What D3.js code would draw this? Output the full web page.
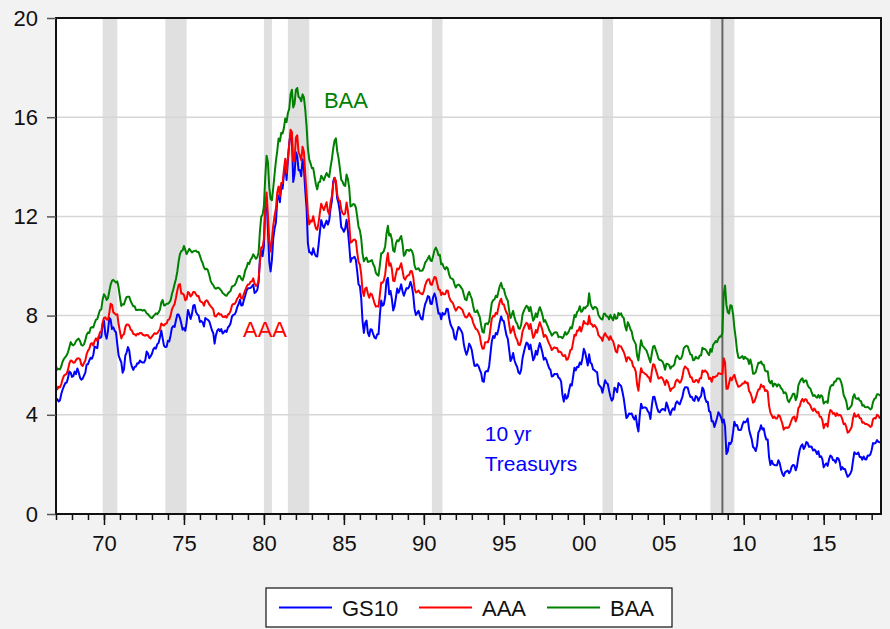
<!DOCTYPE html>
<html>
<head>
<meta charset="utf-8">
<script src="https://cdn.jsdelivr.net/npm/d3@7"></script>
<style>
  body { margin: 0; background: #f2f2f2; }
  svg { display: block; font-family: Arial, "Liberation Sans", sans-serif; }
</style>
</head>
<body>
<div id="chart"></div>
<script>
// monthly series, starting 1967m01
const startYear = 1967;

const gs10 = [
  4.58, 4.63, 4.54, 4.59, 4.85, 5.02, 5.16, 5.28, 5.30, 5.48, 5.75, 5.70,
  5.53, 5.56, 5.74, 5.64, 5.87, 5.72, 5.50, 5.42, 5.46, 5.58, 5.70, 6.03,
  6.04, 6.19, 6.30, 6.26, 6.42, 6.75, 6.72, 6.69, 7.16, 7.10, 7.14, 7.65,
  7.79, 7.24, 7.07, 7.39, 7.91, 7.84, 7.46, 7.53, 7.39, 7.33, 6.84, 6.39,
  6.24, 6.11, 5.70, 5.83, 6.39, 6.52, 6.73, 6.58, 6.14, 5.93, 5.81, 5.93,
  5.95, 6.08, 6.07, 6.19, 6.13, 6.11, 6.11, 6.21, 6.55, 6.48, 6.28, 6.36,
  6.46, 6.64, 6.71, 6.67, 6.85, 6.90, 7.13, 7.40, 7.09, 6.79, 6.73, 6.74,
  6.99, 6.96, 7.21, 7.51, 7.58, 7.54, 7.81, 8.04, 8.04, 7.90, 7.68, 7.43,
  7.50, 7.39, 7.73, 8.23, 8.06, 7.86, 8.06, 8.40, 8.43, 8.15, 8.05, 8.00,
  7.74, 7.79, 7.73, 7.56, 7.90, 7.86, 7.83, 7.77, 7.59, 7.41, 7.29, 6.87,
  7.21, 7.39, 7.46, 7.37, 7.46, 7.28, 7.33, 7.40, 7.34, 7.52, 7.58, 7.69,
  7.96, 8.03, 8.04, 8.15, 8.35, 8.46, 8.64, 8.41, 8.42, 8.64, 8.81, 9.01,
  9.10, 9.10, 9.12, 9.18, 9.25, 8.91, 8.95, 9.03, 9.33, 10.30, 10.65, 10.39,
  10.80, 12.41, 12.75, 11.47, 10.18, 9.78, 10.25, 11.10, 11.51, 11.75, 12.68, 12.84,
  12.57, 13.19, 13.12, 13.68, 14.10, 13.47, 14.28, 14.94, 15.32, 15.15, 13.39, 13.72,
  14.59, 14.43, 13.86, 13.87, 13.62, 14.30, 13.95, 13.06, 12.34, 10.91, 10.55, 10.54,
  10.46, 10.72, 10.51, 10.40, 10.38, 10.85, 11.38, 11.85, 11.65, 11.54, 11.69, 11.83,
  11.67, 11.84, 12.32, 12.63, 13.41, 13.56, 13.36, 12.72, 12.52, 12.16, 11.57, 11.50,
  11.38, 11.51, 11.86, 11.43, 10.85, 10.16, 10.31, 10.33, 10.37, 10.24, 9.78, 9.26,
  9.19, 8.70, 7.78, 7.30, 7.71, 7.80, 7.30, 7.17, 7.45, 7.43, 7.25, 7.11,
  7.08, 7.25, 7.25, 8.02, 8.61, 8.40, 8.45, 8.76, 9.42, 9.52, 8.86, 8.99,
  8.67, 8.21, 8.37, 8.72, 9.09, 8.92, 9.06, 9.26, 8.98, 8.80, 8.96, 9.11,
  9.09, 9.17, 9.36, 9.18, 8.86, 8.28, 8.02, 8.11, 8.19, 8.01, 7.87, 7.84,
  8.21, 8.47, 8.59, 8.79, 8.76, 8.48, 8.47, 8.75, 8.89, 8.72, 8.39, 8.08,
  8.09, 7.85, 8.11, 8.04, 8.07, 8.28, 8.27, 7.90, 7.65, 7.53, 7.42, 7.09,
  7.03, 7.34, 7.54, 7.48, 7.39, 7.26, 6.84, 6.59, 6.42, 6.59, 6.87, 6.77,
  6.60, 6.26, 5.98, 5.97, 6.04, 5.96, 5.81, 5.68, 5.36, 5.33, 5.72, 5.77,
  5.75, 5.97, 6.48, 6.97, 7.18, 7.10, 7.30, 7.24, 7.46, 7.74, 7.96, 7.81,
  7.78, 7.47, 7.20, 7.06, 6.63, 6.17, 6.28, 6.49, 6.20, 6.04, 5.93, 5.71,
  5.65, 5.81, 6.27, 6.51, 6.74, 6.91, 6.87, 6.64, 6.83, 6.53, 6.20, 6.30,
  6.58, 6.42, 6.69, 6.89, 6.71, 6.49, 6.22, 6.30, 6.21, 6.03, 5.88, 5.81,
  5.54, 5.57, 5.65, 5.64, 5.65, 5.50, 5.46, 5.34, 4.81, 4.53, 4.83, 4.65,
  4.72, 5.00, 5.23, 5.18, 5.54, 5.90, 5.79, 5.94, 5.92, 6.11, 6.03, 6.28,
  6.66, 6.52, 6.26, 5.99, 6.44, 6.10, 6.05, 5.83, 5.80, 5.74, 5.72, 5.24,
  5.16, 5.10, 4.89, 5.14, 5.39, 5.28, 5.24, 4.97, 4.73, 4.57, 4.65, 5.09,
  5.04, 4.91, 5.28, 5.21, 5.16, 4.93, 4.65, 4.26, 3.87, 3.94, 4.05, 4.03,
  4.05, 3.90, 3.81, 3.96, 3.57, 3.33, 3.98, 4.45, 4.27, 4.29, 4.30, 4.27,
  4.15, 4.08, 3.83, 4.35, 4.72, 4.73, 4.50, 4.28, 4.13, 4.10, 4.19, 4.23,
  4.22, 4.17, 4.50, 4.34, 4.14, 4.00, 4.18, 4.26, 4.20, 4.46, 4.54, 4.47,
  4.42, 4.57, 4.72, 4.99, 5.11, 5.11, 5.09, 4.88, 4.72, 4.73, 4.60, 4.56,
  4.76, 4.72, 4.56, 4.69, 4.75, 5.10, 5.00, 4.67, 4.52, 4.53, 4.15, 4.10,
  3.74, 3.74, 3.51, 3.68, 3.88, 4.10, 4.01, 3.89, 3.69, 3.81, 3.53, 2.42,
  2.52, 2.87, 2.82, 2.93, 3.29, 3.72, 3.56, 3.59, 3.40, 3.39, 3.40, 3.59,
  3.73, 3.69, 3.73, 3.85, 3.42, 3.20, 3.01, 2.70, 2.65, 2.54, 2.76, 3.29,
  3.39, 3.58, 3.41, 3.46, 3.17, 3.00, 3.00, 2.30, 1.98, 2.15, 2.01, 1.98,
  1.97, 1.97, 2.17, 2.05, 1.80, 1.62, 1.53, 1.68, 1.72, 1.75, 1.65, 1.72,
  1.91, 1.98, 1.96, 1.76, 1.93, 2.30, 2.58, 2.74, 2.81, 2.62, 2.72, 2.90,
  2.86, 2.71, 2.72, 2.71, 2.56, 2.60, 2.54, 2.42, 2.53, 2.30, 2.33, 2.21,
  1.88, 1.98, 2.04, 1.94, 2.20, 2.36, 2.32, 2.17, 2.17, 2.07, 2.26, 2.24,
  2.09, 1.78, 1.89, 1.81, 1.81, 1.64, 1.50, 1.56, 1.63, 1.76, 2.14, 2.49,
  2.43, 2.42, 2.48, 2.30, 2.30, 2.19, 2.32, 2.21, 2.20, 2.36, 2.35, 2.40,
  2.58, 2.86, 2.84, 2.87, 2.98, 2.91, 2.89, 2.89
];

const aaa = [
  5.20, 5.03, 5.13, 5.11, 5.24, 5.44, 5.58, 5.62, 5.65, 5.82, 6.07, 6.19,
  6.17, 6.10, 6.11, 6.21, 6.27, 6.28, 6.24, 6.02, 5.97, 6.09, 6.19, 6.45,
  6.59, 6.66, 6.85, 6.89, 6.79, 6.98, 7.08, 6.97, 7.14, 7.33, 7.35, 7.72,
  7.91, 7.93, 7.84, 7.83, 8.11, 8.48, 8.44, 8.13, 8.09, 8.03, 8.05, 7.64,
  7.36, 7.08, 7.21, 7.25, 7.53, 7.64, 7.64, 7.59, 7.44, 7.39, 7.26, 7.25,
  7.19, 7.27, 7.24, 7.30, 7.30, 7.23, 7.21, 7.19, 7.22, 7.21, 7.12, 7.08,
  7.15, 7.22, 7.29, 7.26, 7.29, 7.37, 7.45, 7.68, 7.63, 7.60, 7.67, 7.68,
  7.83, 7.85, 8.01, 8.25, 8.37, 8.47, 8.72, 9.00, 9.24, 9.27, 8.89, 8.89,
  8.83, 8.62, 8.67, 8.95, 8.90, 8.77, 8.84, 8.95, 8.95, 8.86, 8.78, 8.79,
  8.60, 8.55, 8.52, 8.40, 8.58, 8.62, 8.56, 8.45, 8.38, 8.32, 8.25, 7.98,
  7.96, 8.04, 8.10, 8.04, 8.05, 7.95, 7.94, 7.98, 7.92, 8.04, 8.08, 8.19,
  8.41, 8.47, 8.47, 8.56, 8.69, 8.76, 8.88, 8.69, 8.69, 8.89, 9.03, 9.16,
  9.25, 9.26, 9.37, 9.38, 9.50, 9.29, 9.20, 9.23, 9.44, 10.13, 10.76, 10.74,
  11.09, 12.38, 12.96, 12.04, 10.99, 10.58, 11.07, 11.64, 12.02, 12.31, 12.97, 13.21,
  12.81, 13.35, 13.33, 13.88, 14.32, 13.75, 14.38, 14.89, 15.49, 15.40, 14.22, 14.23,
  15.18, 15.27, 14.58, 14.46, 14.26, 14.81, 14.61, 13.71, 12.94, 12.12, 11.68, 11.83,
  11.79, 12.01, 11.73, 11.51, 11.46, 11.74, 12.15, 12.51, 12.37, 12.25, 12.41, 12.57,
  12.20, 12.08, 12.57, 12.81, 13.28, 13.55, 13.44, 12.87, 12.66, 12.63, 12.29, 12.13,
  12.08, 12.13, 12.56, 12.23, 11.72, 10.94, 10.97, 11.05, 11.07, 11.02, 10.55, 10.16,
  10.05, 9.67, 9.00, 8.79, 9.09, 9.13, 8.88, 8.72, 8.89, 8.86, 8.68, 8.49,
  8.36, 8.38, 8.36, 8.85, 9.33, 9.32, 9.42, 9.67, 10.18, 10.52, 10.01, 10.11,
  9.88, 9.40, 9.39, 9.67, 9.90, 9.86, 9.96, 10.11, 9.82, 9.51, 9.45, 9.57,
  9.62, 9.64, 9.80, 9.79, 9.57, 9.10, 8.93, 8.96, 9.01, 8.92, 8.89, 8.86,
  8.99, 9.22, 9.37, 9.46, 9.47, 9.26, 9.24, 9.41, 9.56, 9.53, 9.30, 9.05,
  9.04, 8.83, 8.93, 8.86, 8.86, 9.01, 9.00, 8.75, 8.61, 8.55, 8.48, 8.31,
  8.20, 8.29, 8.35, 8.33, 8.28, 8.22, 8.07, 7.95, 7.92, 7.99, 8.10, 7.98,
  7.91, 7.71, 7.58, 7.46, 7.43, 7.33, 7.17, 6.85, 6.66, 6.67, 6.93, 6.93,
  6.92, 7.08, 7.48, 7.88, 7.99, 7.97, 8.11, 8.07, 8.34, 8.57, 8.68, 8.46,
  8.46, 8.26, 8.12, 8.03, 7.65, 7.30, 7.41, 7.57, 7.32, 7.12, 7.02, 6.82,
  6.81, 6.99, 7.35, 7.50, 7.62, 7.71, 7.65, 7.46, 7.66, 7.39, 7.10, 7.20,
  7.42, 7.31, 7.55, 7.73, 7.58, 7.41, 7.14, 7.22, 7.15, 7.00, 6.87, 6.76,
  6.61, 6.67, 6.72, 6.69, 6.69, 6.53, 6.55, 6.52, 6.40, 6.37, 6.41, 6.22,
  6.24, 6.40, 6.62, 6.64, 6.93, 7.23, 7.19, 7.40, 7.39, 7.55, 7.36, 7.55,
  7.78, 7.68, 7.68, 7.64, 7.99, 7.67, 7.65, 7.55, 7.62, 7.55, 7.45, 7.21,
  7.15, 7.10, 6.98, 7.20, 7.29, 7.18, 7.13, 7.02, 7.17, 7.03, 6.97, 6.77,
  6.55, 6.51, 6.81, 6.76, 6.75, 6.63, 6.53, 6.37, 6.15, 6.32, 6.31, 6.21,
  6.17, 5.95, 5.89, 5.74, 5.22, 4.97, 5.49, 5.88, 5.72, 5.70, 5.65, 5.62,
  5.54, 5.50, 5.33, 5.73, 6.04, 6.01, 5.82, 5.65, 5.46, 5.47, 5.52, 5.47,
  5.36, 5.20, 5.40, 5.33, 5.15, 4.96, 5.06, 5.09, 5.13, 5.35, 5.42, 5.37,
  5.29, 5.35, 5.53, 5.84, 5.95, 5.89, 5.85, 5.68, 5.51, 5.51, 5.33, 5.32,
  5.40, 5.39, 5.30, 5.47, 5.47, 5.79, 5.73, 5.79, 5.74, 5.66, 5.44, 5.49,
  5.33, 5.53, 5.51, 5.55, 5.57, 5.68, 5.67, 5.64, 5.65, 6.28, 6.12, 5.05,
  5.05, 5.27, 5.50, 5.39, 5.54, 5.61, 5.41, 5.26, 5.13, 5.15, 5.19, 5.26,
  5.26, 5.35, 5.27, 5.29, 4.96, 4.88, 4.72, 4.49, 4.53, 4.68, 4.87, 5.02,
  5.04, 5.22, 5.13, 5.16, 4.96, 4.99, 4.93, 4.37, 4.09, 3.98, 3.87, 3.93,
  3.85, 3.85, 3.99, 3.96, 3.80, 3.64, 3.40, 3.48, 3.49, 3.47, 3.50, 3.65,
  3.80, 3.90, 3.93, 3.73, 3.89, 4.27, 4.34, 4.54, 4.64, 4.53, 4.63, 4.62,
  4.49, 4.45, 4.38, 4.24, 4.16, 4.25, 4.16, 4.08, 4.11, 3.92, 3.92, 3.79,
  3.46, 3.61, 3.64, 3.52, 3.98, 4.19, 4.15, 4.04, 4.07, 3.95, 4.06, 3.97,
  4.00, 3.96, 3.82, 3.62, 3.65, 3.50, 3.28, 3.32, 3.41, 3.51, 3.86, 4.06,
  3.92, 3.95, 4.01, 3.87, 3.85, 3.68, 3.70, 3.63, 3.63, 3.60, 3.57, 3.51,
  3.55, 3.82, 3.87, 3.85, 4.00, 3.96, 3.87, 3.88
];

const baa = [
  5.97, 5.82, 5.85, 5.83, 5.96, 6.15, 6.26, 6.33, 6.40, 6.52, 6.72, 6.93,
  6.84, 6.80, 6.85, 6.97, 7.03, 7.07, 6.98, 6.82, 6.79, 6.84, 7.01, 7.23,
  7.32, 7.30, 7.51, 7.54, 7.52, 7.70, 7.84, 7.86, 8.05, 8.22, 8.25, 8.65,
  8.86, 8.78, 8.63, 8.70, 8.98, 9.25, 9.40, 9.44, 9.39, 9.33, 9.38, 9.12,
  8.74, 8.39, 8.46, 8.45, 8.62, 8.75, 8.76, 8.76, 8.59, 8.48, 8.38, 8.38,
  8.23, 8.23, 8.24, 8.24, 8.23, 8.20, 8.23, 8.19, 8.09, 8.06, 7.99, 7.93,
  7.90, 7.97, 8.03, 8.09, 8.06, 8.13, 8.24, 8.53, 8.63, 8.41, 8.42, 8.48,
  8.48, 8.53, 8.62, 8.87, 9.05, 9.27, 9.48, 9.77, 10.18, 10.48, 10.60, 10.63,
  10.81, 10.65, 10.48, 10.58, 10.69, 10.62, 10.55, 10.59, 10.61, 10.62, 10.56, 10.56,
  10.41, 10.24, 10.12, 9.94, 9.86, 9.89, 9.82, 9.64, 9.40, 9.29, 9.23, 9.12,
  9.08, 9.12, 9.12, 9.07, 9.01, 8.91, 8.87, 8.82, 8.80, 8.89, 8.95, 8.99,
  9.17, 9.20, 9.22, 9.32, 9.49, 9.60, 9.60, 9.48, 9.42, 9.59, 9.83, 9.94,
  10.13, 10.08, 10.26, 10.33, 10.47, 10.38, 10.29, 10.35, 10.54, 11.40, 11.99, 12.06,
  12.42, 13.57, 14.45, 14.19, 13.17, 12.71, 12.65, 13.15, 13.70, 14.23, 14.64, 15.14,
  15.03, 15.37, 15.34, 15.56, 15.95, 15.80, 16.17, 16.34, 16.92, 17.11, 16.39, 16.55,
  17.10, 17.18, 16.82, 16.78, 16.64, 16.92, 16.80, 16.32, 15.63, 14.73, 14.30, 14.14,
  13.94, 13.95, 13.61, 13.29, 13.09, 13.37, 13.39, 13.64, 13.55, 13.46, 13.61, 13.75,
  13.65, 13.59, 13.99, 14.31, 14.74, 15.05, 15.15, 14.63, 14.35, 13.94, 13.48, 13.40,
  13.26, 13.23, 13.69, 13.51, 13.15, 12.40, 12.43, 12.50, 12.48, 12.36, 11.99, 11.58,
  11.44, 11.11, 10.50, 10.19, 10.29, 10.34, 10.16, 10.18, 10.20, 10.24, 10.07, 9.97,
  9.72, 9.65, 9.61, 10.04, 10.51, 10.52, 10.61, 10.80, 11.31, 11.62, 11.23, 11.29,
  11.07, 10.62, 10.57, 10.90, 11.04, 11.00, 11.11, 11.21, 10.90, 10.41, 10.48, 10.65,
  10.65, 10.61, 10.67, 10.61, 10.46, 10.03, 9.87, 9.88, 9.91, 9.81, 9.81, 9.82,
  9.94, 10.14, 10.21, 10.30, 10.41, 10.22, 10.20, 10.41, 10.64, 10.74, 10.62, 10.43,
  10.45, 10.07, 10.09, 9.94, 9.86, 9.96, 9.89, 9.65, 9.51, 9.49, 9.45, 9.26,
  9.13, 9.23, 9.25, 9.21, 9.13, 9.05, 8.84, 8.65, 8.62, 8.84, 8.96, 8.81,
  8.67, 8.39, 8.15, 8.14, 8.21, 8.07, 7.93, 7.60, 7.34, 7.31, 7.66, 7.69,
  7.65, 7.76, 8.13, 8.52, 8.62, 8.65, 8.80, 8.74, 8.98, 9.20, 9.32, 9.10,
  9.08, 8.85, 8.70, 8.60, 8.20, 7.90, 8.04, 8.19, 7.93, 7.75, 7.68, 7.49,
  7.47, 7.63, 8.03, 8.19, 8.30, 8.40, 8.35, 8.18, 8.35, 8.07, 7.79, 7.89,
  8.09, 7.94, 8.18, 8.34, 8.20, 8.02, 7.75, 7.82, 7.70, 7.57, 7.42, 7.32,
  7.19, 7.25, 7.32, 7.33, 7.30, 7.13, 7.15, 7.14, 7.09, 7.18, 7.34, 7.23,
  7.29, 7.39, 7.53, 7.48, 7.72, 8.02, 7.95, 8.15, 8.20, 8.38, 8.15, 8.19,
  8.33, 8.29, 8.37, 8.40, 8.90, 8.48, 8.35, 8.26, 8.35, 8.34, 8.28, 8.02,
  7.93, 7.87, 7.84, 8.07, 8.07, 7.97, 7.97, 7.85, 8.03, 7.91, 7.81, 8.05,
  7.87, 7.89, 8.11, 8.03, 8.09, 7.95, 7.90, 7.58, 7.40, 7.73, 7.62, 7.45,
  7.35, 7.06, 6.95, 6.85, 6.38, 6.19, 6.62, 7.01, 6.79, 6.73, 6.66, 6.60,
  6.44, 6.27, 6.11, 6.46, 6.75, 6.78, 6.62, 6.46, 6.27, 6.21, 6.20, 6.15,
  6.02, 5.82, 6.06, 6.05, 6.01, 5.86, 5.95, 5.96, 6.03, 6.30, 6.39, 6.32,
  6.24, 6.27, 6.41, 6.68, 6.75, 6.78, 6.76, 6.59, 6.43, 6.42, 6.20, 6.22,
  6.34, 6.28, 6.27, 6.39, 6.39, 6.70, 6.65, 6.65, 6.59, 6.48, 6.40, 6.65,
  6.54, 6.82, 6.89, 6.97, 6.93, 7.07, 7.16, 7.15, 7.31, 8.88, 9.21, 8.43,
  8.14, 8.08, 8.42, 8.39, 8.06, 7.50, 7.09, 6.58, 6.31, 6.29, 6.32, 6.37,
  6.25, 6.34, 6.27, 6.25, 6.05, 6.23, 6.01, 5.66, 5.66, 5.72, 5.92, 6.10,
  6.09, 6.15, 6.03, 6.02, 5.78, 5.75, 5.76, 5.36, 5.27, 5.37, 5.14, 5.25,
  5.23, 5.14, 5.23, 5.19, 5.07, 5.02, 4.87, 4.91, 4.84, 4.58, 4.51, 4.63,
  4.73, 4.85, 4.85, 4.59, 4.73, 5.19, 5.32, 5.42, 5.47, 5.31, 5.38, 5.38,
  5.19, 5.10, 5.06, 4.90, 4.76, 4.80, 4.73, 4.69, 4.80, 4.69, 4.79, 4.74,
  4.45, 4.51, 4.54, 4.48, 4.89, 5.13, 5.20, 5.19, 5.34, 5.34, 5.46, 5.46,
  5.45, 5.34, 5.13, 4.79, 4.68, 4.53, 4.22, 4.24, 4.31, 4.38, 4.71, 4.83,
  4.66, 4.64, 4.68, 4.57, 4.55, 4.37, 4.39, 4.31, 4.30, 4.32, 4.27, 4.22,
  4.26, 4.51, 4.64, 4.67, 4.83, 4.83, 4.79, 4.77
];

// NBER recessions, [peak, trough] as fractional years (month start)
const recessions = [
  [1969 + 11/12, 1970 + 10/12],
  [1973 + 10/12, 1975 + 2/12],
  [1980 + 0/12, 1980 + 6/12],
  [1981 + 6/12, 1982 + 10/12],
  [1990 + 6/12, 1991 + 2/12],
  [2001 + 2/12, 2001 + 10/12],
  [2007 + 11/12, 2009 + 5/12]
];
const lehman = 2008 + 8/12;

const yTicks = [0, 4, 8, 12, 16, 20];
const xMajor = [1970, 1975, 1980, 1985, 1990, 1995, 2000, 2005, 2010, 2015];
const xMinor = d3.range(1967, 2019);

const seriesNames = ["GS10", "AAA", "BAA"];
const seriesColors = ["#0000ff", "#ff0000", "#008000"];

const width = 890, height = 629;
const plotL = 56, plotR = 881, plotT = 18, plotB = 514;

const svg = d3.select("#chart").append("svg")
  .attr("width", width).attr("height", height);

svg.append("rect").attr("width", width).attr("height", height).attr("fill", "#f2f2f2");
svg.append("rect")
  .attr("x", plotL).attr("y", plotT)
  .attr("width", plotR - plotL).attr("height", plotB - plotT)
  .attr("fill", "#fff");

const x = d3.scaleLinear().domain([startYear, 2018 + 7/12]).range([plotL, plotR]);
const y = d3.scaleLinear().domain([0, 20]).range([plotB, plotT]);

// recession bars
svg.append("g").selectAll("rect")
  .data(recessions)
  .enter().append("rect")
  .attr("x", d => x(d[0]))
  .attr("width", d => x(d[1]) - x(d[0]))
  .attr("y", plotT)
  .attr("height", plotB - plotT)
  .attr("fill", "#e0e0e0");

// grid lines
svg.append("g").selectAll("line")
  .data(yTicks.filter(v => v > 0 && v < 20))
  .enter().append("line")
  .attr("x1", plotL).attr("x2", plotR)
  .attr("y1", d => y(d)).attr("y2", d => y(d))
  .attr("stroke", "#d6d6d6")
  .attr("stroke-width", 1.5);

// Sept 2008 marker
svg.append("line")
  .attr("x1", x(lehman)).attr("x2", x(lehman))
  .attr("y1", plotT).attr("y2", plotB)
  .attr("stroke", "#666")
  .attr("stroke-width", 2);

// series
const line = d3.line()
  .x((d, i) => x(startYear + i / 12))
  .y(d => y(d));

[gs10, aaa, baa].forEach((s, k) => {
  svg.append("path")
    .datum(s)
    .attr("d", line)
    .attr("fill", "none")
    .attr("stroke", seriesColors[k])
    .attr("stroke-width", 2)
    .attr("stroke-linejoin", "round");
});

// frame
svg.append("rect")
  .attr("x", plotL).attr("y", plotT)
  .attr("width", plotR - plotL).attr("height", plotB - plotT)
  .attr("fill", "none")
  .attr("stroke", "#111")
  .attr("stroke-width", 2);

// y axis
const yAxis = svg.append("g")
  .attr("transform", "translate(" + plotL + ",0)")
  .call(d3.axisLeft(y).tickValues(yTicks).tickSize(9).tickPadding(9));
yAxis.select(".domain").remove();
yAxis.selectAll("line").attr("stroke", "#555").attr("stroke-width", 1.5);
yAxis.selectAll("text").attr("font-size", 22).attr("fill", "#111")
  .attr("font-family", "Arial, 'Liberation Sans', sans-serif");

// x axis: minor yearly ticks and labelled 5-year ticks
const xMinorAxis = svg.append("g")
  .attr("transform", "translate(0," + plotB + ")")
  .call(d3.axisBottom(x).tickValues(xMinor).tickSize(6).tickFormat(""));
xMinorAxis.select(".domain").remove();
xMinorAxis.selectAll("line").attr("stroke", "#111").attr("stroke-width", 1.5);

const xAxis = svg.append("g")
  .attr("transform", "translate(0," + plotB + ")")
  .call(d3.axisBottom(x).tickValues(xMajor).tickSize(11).tickPadding(10)
    .tickFormat(d => String(d).slice(2)));
xAxis.select(".domain").remove();
xAxis.selectAll("line").attr("stroke", "#111").attr("stroke-width", 1.5);
xAxis.selectAll("text").attr("font-size", 22).attr("fill", "#111")
  .attr("font-family", "Arial, 'Liberation Sans', sans-serif");

// in-plot labels
svg.append("text").attr("x", x(1983.75)).attr("y", y(16.37))
  .attr("font-size", 22).attr("fill", "#008000").text("BAA");
svg.append("text").attr("x", x(1978.69)).attr("y", y(7.14))
  .attr("font-size", 22).attr("fill", "#ff0000").text("AAA");
svg.append("text").attr("x", x(1993.81)).attr("y", y(2.94))
  .attr("font-size", 21).attr("fill", "#0000ff").text("10 yr");
svg.append("text").attr("x", x(1993.81)).attr("y", y(1.73))
  .attr("font-size", 21).attr("fill", "#0000ff").text("Treasuyrs");

// legend
const legend = svg.append("g").attr("transform", "translate(266,588)");
legend.append("rect")
  .attr("width", 406).attr("height", 39)
  .attr("fill", "#fff").attr("stroke", "#111").attr("stroke-width", 1.2);
const legendX = [13, 153, 281];
seriesNames.forEach((name, k) => {
  legend.append("line")
    .attr("x1", legendX[k]).attr("x2", legendX[k] + 53)
    .attr("y1", 19.5).attr("y2", 19.5)
    .attr("stroke", seriesColors[k]).attr("stroke-width", 2);
  legend.append("text")
    .attr("x", legendX[k] + 63).attr("y", 27.5)
    .attr("font-size", 22).attr("fill", "#111").text(name);
});
</script>
</body>
</html>
